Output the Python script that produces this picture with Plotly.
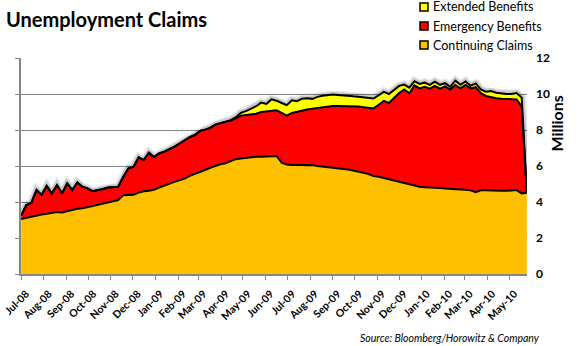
import numpy as np
import pandas as pd
import plotly.graph_objects as go

# ---------------- data (millions, weekly) ----------------
week_dates = pd.date_range("2008-07-05", periods=100, freq="7D")

continuing = [
    3.05, 3.12, 3.18, 3.25, 3.30, 3.34, 3.37, 3.44, 3.42, 3.50,
    3.55, 3.63, 3.65, 3.70, 3.77, 3.85, 3.92, 4.00, 4.03, 4.10,
    4.38, 4.39, 4.40, 4.52, 4.60, 4.63, 4.68, 4.80, 4.92, 5.02,
    5.12, 5.20, 5.30, 5.45, 5.55, 5.65, 5.78, 5.90, 6.02, 6.10,
    6.15, 6.25, 6.38, 6.42, 6.46, 6.50, 6.52, 6.52, 6.52, 6.53,
    6.56, 6.18, 6.08, 6.06, 6.08, 6.06, 6.04, 6.05, 6.00, 5.97,
    5.95, 5.92, 5.90, 5.85, 5.80, 5.75, 5.70, 5.62, 5.55, 5.44,
    5.40, 5.33, 5.25, 5.20, 5.13, 5.05, 5.00, 4.92, 4.85, 4.82,
    4.82, 4.80, 4.78, 4.75, 4.72, 4.70, 4.70, 4.68, 4.65, 4.55,
    4.65, 4.65, 4.63, 4.62, 4.62, 4.62, 4.64, 4.66, 4.48, 4.52,
]

emergency = [
    0.19, 0.71, 0.78, 1.42, 1.09, 1.55, 1.11, 1.50, 1.06, 1.54,
    1.12, 1.46, 1.20, 1.06, 0.83, 0.80, 0.80, 0.80, 0.81, 0.75,
    1.03, 1.48, 1.56, 1.96, 1.73, 2.11, 1.82, 1.90, 1.88, 1.90,
    1.96, 2.05, 2.14, 2.15, 2.17, 2.30, 2.24, 2.22, 2.28, 2.28,
    2.30, 2.27, 2.27, 2.38, 2.37, 2.36, 2.38, 2.48, 2.51, 2.55,
    2.54, 2.77, 2.72, 2.89, 2.94, 3.02, 3.10, 3.13, 3.22, 3.31,
    3.36, 3.41, 3.43, 3.48, 3.53, 3.57, 3.60, 3.65, 3.69, 3.76,
    4.00, 4.29, 4.25, 4.60, 4.92, 5.20, 5.04, 5.56, 5.46, 5.58,
    5.48, 5.65, 5.52, 5.67, 5.53, 5.80, 5.61, 5.82, 5.66, 5.83,
    5.40, 5.24, 5.19, 5.15, 5.12, 5.10, 5.06, 5.04, 4.82, 0.00,
]

extended = [
    0.00, 0.00, 0.00, 0.00, 0.00, 0.00, 0.00, 0.00, 0.00, 0.00,
    0.00, 0.00, 0.00, 0.00, 0.00, 0.00, 0.00, 0.00, 0.00, 0.00,
    0.00, 0.00, 0.00, 0.00, 0.00, 0.00, 0.00, 0.00, 0.00, 0.00,
    0.00, 0.00, 0.00, 0.00, 0.00, 0.00, 0.00, 0.00, 0.00, 0.00,
    0.00, 0.03, 0.05, 0.15, 0.22, 0.33, 0.42, 0.52, 0.42, 0.62,
    0.53, 0.55, 0.58, 0.70, 0.58, 0.66, 0.62, 0.55, 0.62, 0.62,
    0.62, 0.64, 0.62, 0.58, 0.56, 0.55, 0.55, 0.55, 0.56, 0.55,
    0.53, 0.50, 0.50, 0.45, 0.40, 0.27, 0.31, 0.23, 0.25, 0.24,
    0.21, 0.24, 0.21, 0.18, 0.15, 0.24, 0.20, 0.20, 0.15, 0.21,
    0.21, 0.24, 0.34, 0.30, 0.28, 0.28, 0.30, 0.35, 0.50, 0.00,
]

series_names = ["Extended Benefits", "Emergency Benefits", "Continuing Claims"]
series_colors = ["#FFFF00", "#FF0000", "#FFC000"]

tick_labels = ["Jul-08", "Aug-08", "Sep-08", "Oct-08", "Nov-08", "Dec-08",
               "Jan-09", "Feb-09", "Mar-09", "Apr-09", "May-09", "Jun-09",
               "Jul-09", "Aug-09", "Sep-09", "Oct-09", "Nov-09", "Dec-09",
               "Jan-10", "Feb-10", "Mar-10", "Apr-10", "May-10"]
tick_dates = pd.date_range("2008-07-05", periods=len(tick_labels),
                           freq=pd.DateOffset(months=1))

# ---------------- figure ----------------
W, H = 578, 346
L, R, T, B = 21, 527, 58, 274
FONT = "Lato"
GRID = "#868686"

c = np.array(continuing)
ce = c + np.array(emergency)
cex = ce + np.array(extended)

fig = go.Figure()

# soft glow under the top outline
for wdt, alpha in [(9, 0.08), (6, 0.14)]:
    fig.add_trace(go.Scatter(x=week_dates, y=cex, mode="lines",
                             line=dict(color=f"rgba(0,0,0,{alpha})", width=wdt),
                             hoverinfo="skip", showlegend=False))

fig.add_trace(go.Scatter(x=week_dates, y=c, mode="lines", name=series_names[2],
                         fill="tozeroy", fillcolor=series_colors[2],
                         line=dict(color="black", width=2), showlegend=False))
fig.add_trace(go.Scatter(x=week_dates, y=ce, mode="lines", name=series_names[1],
                         fill="tonexty", fillcolor=series_colors[1],
                         line=dict(color="black", width=2), showlegend=False))
fig.add_trace(go.Scatter(x=week_dates, y=cex, mode="lines", name=series_names[0],
                         fill="tonexty", fillcolor=series_colors[0],
                         line=dict(color="black", width=2), showlegend=False))
# carrier for the left axis line
fig.add_trace(go.Scatter(x=[week_dates[0]], y=[None], yaxis="y2",
                         mode="lines", showlegend=False, hoverinfo="skip"))


def px_x(px):
    return (px - L) / (R - L)


def px_y(py):
    return (B - py) / (B - T)


annotations = [
    dict(text="<b>Millions</b>", textangle=-90, x=px_x(567), y=px_y(94),
         xref="paper", yref="paper", showarrow=False,
         font=dict(family=FONT, size=16, color="black")),
    dict(text="<i>Source: Bloomberg/Horowitz &amp; Company</i>",
         x=px_x(542), y=px_y(338), xref="paper", yref="paper",
         xanchor="right", yanchor="middle", showarrow=False,
         font=dict(family=FONT, size=10.5, color="black")),
]
shapes = []
leg_y = [7, 26, 45]
for name, col, ly in zip(series_names, series_colors, leg_y):
    shapes.append(dict(type="rect", xref="paper", yref="paper",
                       x0=px_x(420), x1=px_x(428), y0=px_y(ly + 4), y1=px_y(ly - 4),
                       fillcolor=col, line=dict(color="black", width=1.5)))
    annotations.append(dict(text=name, x=px_x(431), y=px_y(ly), xref="paper",
                            yref="paper", xanchor="left", yanchor="middle",
                            showarrow=False,
                            font=dict(family=FONT, size=12.5, color="black")))

x_start = week_dates[0] - pd.Timedelta(hours=6)
x_end = week_dates[-1] + pd.Timedelta(hours=6)

fig.update_layout(
    width=W, height=H,
    margin=dict(l=L, r=W - R, t=T, b=H - B, pad=0, autoexpand=False),
    paper_bgcolor="white", plot_bgcolor="white",
    showlegend=False,
    title=dict(text="<b>Unemployment Claims</b>", x=6 / W, xanchor="left",
               y=1 - 20 / H, yanchor="middle",
               font=dict(family=FONT, size=20, color="black")),
    xaxis=dict(type="date", range=[x_start, x_end], automargin=False,
               tickvals=tick_dates, ticktext=tick_labels, tickangle=-45,
               ticks="outside", ticklen=4, tickcolor=GRID,
               showline=True, linecolor=GRID, linewidth=1.5,
               showgrid=False, zeroline=False, ticklabelstandoff=4,
               ticklabelshift=5, ticklabeloverflow="allow",
               tickfont=dict(family=FONT, size=10.5, color="black", weight="bold")),
    yaxis=dict(range=[0, 12], dtick=2, side="right", showgrid=True,
               automargin=False,
               gridcolor=GRID, gridwidth=1, zeroline=False, showline=False,
               ticks="", ticklabelstandoff=8,
               tickfont=dict(family=FONT, size=12, color="black", weight="bold")),
    yaxis2=dict(range=[0, 12], dtick=2, overlaying="y", side="left",
                automargin=False,
                showgrid=False, zeroline=False, showline=True, linecolor=GRID,
                linewidth=1.5, ticks="outside", ticklen=4, tickcolor=GRID,
                showticklabels=False),
    annotations=annotations,
    shapes=shapes,
)

fig.write_html("out.html", config={"displayModeBar": False})
